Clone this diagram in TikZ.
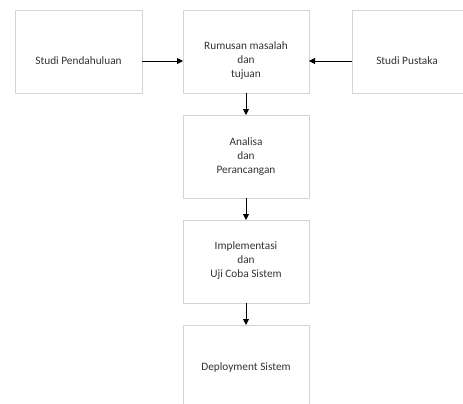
\documentclass[tikz,border=0pt]{standalone}
\usepackage{fontspec}
\setmainfont{Carlito}
\usetikzlibrary{arrows.meta}
\definecolor{boxline}{HTML}{D4D4D4}
\definecolor{txt}{HTML}{333333}
\begin{document}
\begin{tikzpicture}[x=1pt,y=-1pt,
  stepbox/.style={draw=boxline,line width=0.6pt,fill=white},
  lbl/.style={text=txt,font=\fontsize{11.3}{14}\selectfont,align=center},
  flow/.style={-{Triangle[length=6pt,width=6pt]},line width=0.9pt,black}]
\useasboundingbox (0,0) rectangle (463,404);
% boxes
\draw[stepbox] (15,10) rectangle (142,93);
\draw[stepbox] (183,10) rectangle (309,93);
\draw[stepbox] (352,10) rectangle (480,93);
\draw[stepbox] (183,115) rectangle (309,198);
\draw[stepbox] (183,220) rectangle (309,303);
\draw[stepbox] (183,325) rectangle (309,410);
% labels
\node[lbl] (pend) at (78.5,61) {Studi Pendahuluan};
\node[lbl] (rumus) at (246,61) {Rumusan masalah\\dan\\tujuan};
\node[lbl] (pust) at (407,61) {Studi Pustaka};
\node[lbl] (anal) at (246,157) {Analisa\\dan\\Perancangan};
\node[lbl] (impl) at (246,261) {Implementasi\\dan\\Uji Coba Sistem};
\node[lbl] (depl) at (246,367) {Deployment Sistem};
% anchor points on box edges
\coordinate (pendR) at (142,61);
\coordinate (rumusL) at (183,61);
\coordinate (rumusR) at (309,61);
\coordinate (pustL) at (352,61);
\coordinate (rumusB) at (246,93);
\coordinate (analT) at (246,115);
\coordinate (analB) at (246,198);
\coordinate (implT) at (246,220);
\coordinate (implB) at (246,303);
\coordinate (deplT) at (246,325);
% connectors
\draw[flow] (pendR) -- (rumusL);
\draw[flow] (pustL) -- (rumusR);
\draw[flow] (rumusB) -- (analT);
\draw[flow] (analB) -- (implT);
\draw[flow] (implB) -- (deplT);
\end{tikzpicture}
\end{document}
